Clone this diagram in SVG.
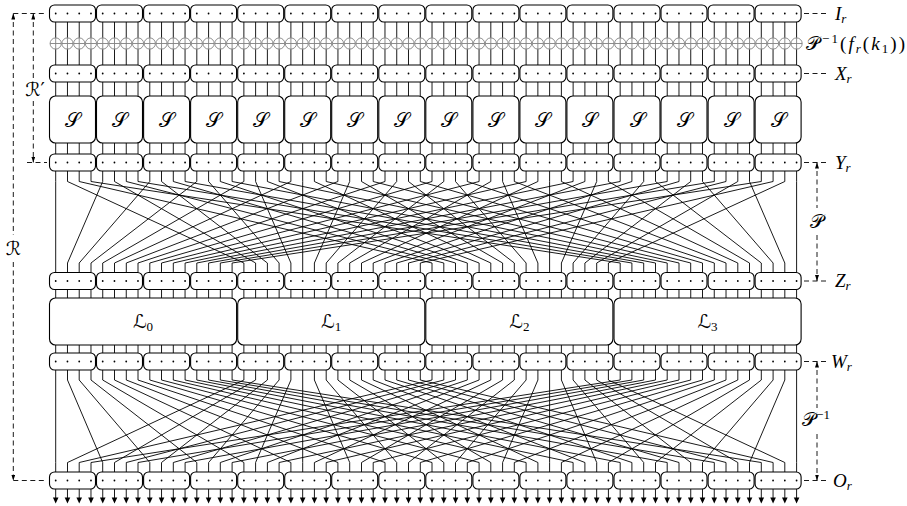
<svg xmlns="http://www.w3.org/2000/svg" xmlns:xlink="http://www.w3.org/1999/xlink" width="907" height="506" viewBox="0 0 907 506">
<style>
.bx{fill:#fff;stroke:#000;stroke-width:1.1}
.w{fill:none;stroke:#000;stroke-width:0.9}
.c path{fill:none;stroke:#000;stroke-width:0.9}
.dash{fill:none;stroke:#000;stroke-width:0.9;stroke-dasharray:5 3.5}
.xr{fill:#fff;stroke:#808080;stroke-width:0.9}
.lbl{font-family:"Liberation Serif",serif;font-style:italic;font-size:19px}
.sub{font-family:"Liberation Serif",serif;font-style:italic;font-size:13px}
.cal{font-family:"DejaVu Serif","DejaVu Sans",serif;font-style:normal}
.num{font-family:"Liberation Serif",serif;font-style:normal;font-size:13px}
</style>
<defs>
<marker id="ah" viewBox="0 0 6 4" refX="6" refY="2" markerWidth="6" markerHeight="4" markerUnits="userSpaceOnUse" orient="auto-start-reverse"><path d="M0 0L6 2L0 4z"/></marker>
<g id="sb"><rect class="bx" x="0" y="0" width="46" height="17" rx="5"/><circle cx="6.2" cy="8.5" r="0.9"/><circle cx="17.96" cy="8.5" r="0.9"/><circle cx="29.72" cy="8.5" r="0.9"/><circle cx="41.48" cy="8.5" r="0.9"/></g>
<g id="Sb"><rect class="bx" x="0" y="0" width="46" height="47" rx="6"/><text class="cal" x="23" y="30.5" font-size="20" text-anchor="middle">𝒮</text></g>
<g id="col"><path class="w" d="M0 22V37.9M0 49.1V65M0 82V96M0 143V154M0 289.5V298M0 345V353M0 489V498"/><circle class="xr" cx="0" cy="43.5" r="5.6"/><path class="xr" d="M0 37.9V49.1M-5.6 43.5H5.6"/><path d="M-2.8 497.5H2.8L0 503.5z"/></g>
<g id="c4"><use xlink:href="#col"/><use xlink:href="#col" x="11.76"/><use xlink:href="#col" x="23.52"/><use xlink:href="#col" x="35.28"/></g>
<g id="c16"><use xlink:href="#c4"/><use xlink:href="#c4" x="47.04"/><use xlink:href="#c4" x="94.08"/><use xlink:href="#c4" x="141.12"/></g>
</defs>
<rect width="907" height="506" fill="#fff"/>
<g id="wires">
<use xlink:href="#c16" x="55.7"/><use xlink:href="#c16" x="243.86"/><use xlink:href="#c16" x="432.02"/><use xlink:href="#c16" x="620.18"/>
</g>
<g id="I">
<g id="I0"><use xlink:href="#sb" x="49.5" y="5"/></g><g id="I1"><use xlink:href="#sb" x="96.5" y="5"/></g><g id="I2"><use xlink:href="#sb" x="143.6" y="5"/></g><g id="I3"><use xlink:href="#sb" x="190.6" y="5"/></g>
<g id="I4"><use xlink:href="#sb" x="237.7" y="5"/></g><g id="I5"><use xlink:href="#sb" x="284.7" y="5"/></g><g id="I6"><use xlink:href="#sb" x="331.7" y="5"/></g><g id="I7"><use xlink:href="#sb" x="378.8" y="5"/></g>
<g id="I8"><use xlink:href="#sb" x="425.8" y="5"/></g><g id="I9"><use xlink:href="#sb" x="472.9" y="5"/></g><g id="I10"><use xlink:href="#sb" x="519.9" y="5"/></g><g id="I11"><use xlink:href="#sb" x="566.9" y="5"/></g>
<g id="I12"><use xlink:href="#sb" x="614" y="5"/></g><g id="I13"><use xlink:href="#sb" x="661" y="5"/></g><g id="I14"><use xlink:href="#sb" x="708.1" y="5"/></g><g id="I15"><use xlink:href="#sb" x="755.1" y="5"/></g>
</g>
<g id="X">
<g id="X0"><use xlink:href="#sb" x="49.5" y="65"/></g><g id="X1"><use xlink:href="#sb" x="96.5" y="65"/></g><g id="X2"><use xlink:href="#sb" x="143.6" y="65"/></g><g id="X3"><use xlink:href="#sb" x="190.6" y="65"/></g>
<g id="X4"><use xlink:href="#sb" x="237.7" y="65"/></g><g id="X5"><use xlink:href="#sb" x="284.7" y="65"/></g><g id="X6"><use xlink:href="#sb" x="331.7" y="65"/></g><g id="X7"><use xlink:href="#sb" x="378.8" y="65"/></g>
<g id="X8"><use xlink:href="#sb" x="425.8" y="65"/></g><g id="X9"><use xlink:href="#sb" x="472.9" y="65"/></g><g id="X10"><use xlink:href="#sb" x="519.9" y="65"/></g><g id="X11"><use xlink:href="#sb" x="566.9" y="65"/></g>
<g id="X12"><use xlink:href="#sb" x="614" y="65"/></g><g id="X13"><use xlink:href="#sb" x="661" y="65"/></g><g id="X14"><use xlink:href="#sb" x="708.1" y="65"/></g><g id="X15"><use xlink:href="#sb" x="755.1" y="65"/></g>
</g>
<g id="S">
<g id="S0"><use xlink:href="#Sb" x="49.5" y="96"/></g><g id="S1"><use xlink:href="#Sb" x="96.5" y="96"/></g><g id="S2"><use xlink:href="#Sb" x="143.6" y="96"/></g><g id="S3"><use xlink:href="#Sb" x="190.6" y="96"/></g>
<g id="S4"><use xlink:href="#Sb" x="237.7" y="96"/></g><g id="S5"><use xlink:href="#Sb" x="284.7" y="96"/></g><g id="S6"><use xlink:href="#Sb" x="331.7" y="96"/></g><g id="S7"><use xlink:href="#Sb" x="378.8" y="96"/></g>
<g id="S8"><use xlink:href="#Sb" x="425.8" y="96"/></g><g id="S9"><use xlink:href="#Sb" x="472.9" y="96"/></g><g id="S10"><use xlink:href="#Sb" x="519.9" y="96"/></g><g id="S11"><use xlink:href="#Sb" x="566.9" y="96"/></g>
<g id="S12"><use xlink:href="#Sb" x="614" y="96"/></g><g id="S13"><use xlink:href="#Sb" x="661" y="96"/></g><g id="S14"><use xlink:href="#Sb" x="708.1" y="96"/></g><g id="S15"><use xlink:href="#Sb" x="755.1" y="96"/></g>
</g>
<g id="Y">
<g id="Y0"><use xlink:href="#sb" x="49.5" y="154"/></g><g id="Y1"><use xlink:href="#sb" x="96.5" y="154"/></g><g id="Y2"><use xlink:href="#sb" x="143.6" y="154"/></g><g id="Y3"><use xlink:href="#sb" x="190.6" y="154"/></g>
<g id="Y4"><use xlink:href="#sb" x="237.7" y="154"/></g><g id="Y5"><use xlink:href="#sb" x="284.7" y="154"/></g><g id="Y6"><use xlink:href="#sb" x="331.7" y="154"/></g><g id="Y7"><use xlink:href="#sb" x="378.8" y="154"/></g>
<g id="Y8"><use xlink:href="#sb" x="425.8" y="154"/></g><g id="Y9"><use xlink:href="#sb" x="472.9" y="154"/></g><g id="Y10"><use xlink:href="#sb" x="519.9" y="154"/></g><g id="Y11"><use xlink:href="#sb" x="566.9" y="154"/></g>
<g id="Y12"><use xlink:href="#sb" x="614" y="154"/></g><g id="Y13"><use xlink:href="#sb" x="661" y="154"/></g><g id="Y14"><use xlink:href="#sb" x="708.1" y="154"/></g><g id="Y15"><use xlink:href="#sb" x="755.1" y="154"/></g>
</g>
<g id="Z">
<g id="Z0"><use xlink:href="#sb" x="49.5" y="272.5"/></g><g id="Z1"><use xlink:href="#sb" x="96.5" y="272.5"/></g><g id="Z2"><use xlink:href="#sb" x="143.6" y="272.5"/></g><g id="Z3"><use xlink:href="#sb" x="190.6" y="272.5"/></g>
<g id="Z4"><use xlink:href="#sb" x="237.7" y="272.5"/></g><g id="Z5"><use xlink:href="#sb" x="284.7" y="272.5"/></g><g id="Z6"><use xlink:href="#sb" x="331.7" y="272.5"/></g><g id="Z7"><use xlink:href="#sb" x="378.8" y="272.5"/></g>
<g id="Z8"><use xlink:href="#sb" x="425.8" y="272.5"/></g><g id="Z9"><use xlink:href="#sb" x="472.9" y="272.5"/></g><g id="Z10"><use xlink:href="#sb" x="519.9" y="272.5"/></g><g id="Z11"><use xlink:href="#sb" x="566.9" y="272.5"/></g>
<g id="Z12"><use xlink:href="#sb" x="614" y="272.5"/></g><g id="Z13"><use xlink:href="#sb" x="661" y="272.5"/></g><g id="Z14"><use xlink:href="#sb" x="708.1" y="272.5"/></g><g id="Z15"><use xlink:href="#sb" x="755.1" y="272.5"/></g>
</g>
<g id="L">
<g id="L0"><rect class="bx" x="49.5" y="298" width="187.1" height="47" rx="6"/><text class="cal" x="143" y="328" font-size="19" text-anchor="middle">ℒ<tspan class="num" dy="3">0</tspan></text></g>
<g id="L1"><rect class="bx" x="237.7" y="298" width="187.1" height="47" rx="6"/><text class="cal" x="331.2" y="328" font-size="19" text-anchor="middle">ℒ<tspan class="num" dy="3">1</tspan></text></g>
<g id="L2"><rect class="bx" x="425.8" y="298" width="187.1" height="47" rx="6"/><text class="cal" x="519.4" y="328" font-size="19" text-anchor="middle">ℒ<tspan class="num" dy="3">2</tspan></text></g>
<g id="L3"><rect class="bx" x="614" y="298" width="187.1" height="47" rx="6"/><text class="cal" x="707.5" y="328" font-size="19" text-anchor="middle">ℒ<tspan class="num" dy="3">3</tspan></text></g>
</g>
<g id="W">
<g id="W0"><use xlink:href="#sb" x="49.5" y="353"/></g><g id="W1"><use xlink:href="#sb" x="96.5" y="353"/></g><g id="W2"><use xlink:href="#sb" x="143.6" y="353"/></g><g id="W3"><use xlink:href="#sb" x="190.6" y="353"/></g>
<g id="W4"><use xlink:href="#sb" x="237.7" y="353"/></g><g id="W5"><use xlink:href="#sb" x="284.7" y="353"/></g><g id="W6"><use xlink:href="#sb" x="331.7" y="353"/></g><g id="W7"><use xlink:href="#sb" x="378.8" y="353"/></g>
<g id="W8"><use xlink:href="#sb" x="425.8" y="353"/></g><g id="W9"><use xlink:href="#sb" x="472.9" y="353"/></g><g id="W10"><use xlink:href="#sb" x="519.9" y="353"/></g><g id="W11"><use xlink:href="#sb" x="566.9" y="353"/></g>
<g id="W12"><use xlink:href="#sb" x="614" y="353"/></g><g id="W13"><use xlink:href="#sb" x="661" y="353"/></g><g id="W14"><use xlink:href="#sb" x="708.1" y="353"/></g><g id="W15"><use xlink:href="#sb" x="755.1" y="353"/></g>
</g>
<g id="O">
<g id="O0"><use xlink:href="#sb" x="49.5" y="472"/></g><g id="O1"><use xlink:href="#sb" x="96.5" y="472"/></g><g id="O2"><use xlink:href="#sb" x="143.6" y="472"/></g><g id="O3"><use xlink:href="#sb" x="190.6" y="472"/></g>
<g id="O4"><use xlink:href="#sb" x="237.7" y="472"/></g><g id="O5"><use xlink:href="#sb" x="284.7" y="472"/></g><g id="O6"><use xlink:href="#sb" x="331.7" y="472"/></g><g id="O7"><use xlink:href="#sb" x="378.8" y="472"/></g>
<g id="O8"><use xlink:href="#sb" x="425.8" y="472"/></g><g id="O9"><use xlink:href="#sb" x="472.9" y="472"/></g><g id="O10"><use xlink:href="#sb" x="519.9" y="472"/></g><g id="O11"><use xlink:href="#sb" x="566.9" y="472"/></g>
<g id="O12"><use xlink:href="#sb" x="614" y="472"/></g><g id="O13"><use xlink:href="#sb" x="661" y="472"/></g><g id="O14"><use xlink:href="#sb" x="708.1" y="472"/></g><g id="O15"><use xlink:href="#sb" x="755.1" y="472"/></g>
</g>
<g id="connectors" class="c">
<g id="P">
<path d="M55.7 171V181.5L55.7 263V272.5"/><path d="M67.5 171V181.5L243.9 263V272.5"/><path d="M79.2 171V181.5L432 263V272.5"/><path d="M91 171V181.5L620.2 263V272.5"/>
<path d="M102.7 171V181.5L67.5 263V272.5"/><path d="M114.5 171V181.5L255.6 263V272.5"/><path d="M126.3 171V181.5L443.8 263V272.5"/><path d="M138 171V181.5L631.9 263V272.5"/>
<path d="M149.8 171V181.5L79.2 263V272.5"/><path d="M161.5 171V181.5L267.4 263V272.5"/><path d="M173.3 171V181.5L455.5 263V272.5"/><path d="M185.1 171V181.5L643.7 263V272.5"/>
<path d="M196.8 171V181.5L91 263V272.5"/><path d="M208.6 171V181.5L279.1 263V272.5"/><path d="M220.3 171V181.5L467.3 263V272.5"/><path d="M232.1 171V181.5L655.5 263V272.5"/>
<path d="M243.9 171V181.5L102.7 263V272.5"/><path d="M255.6 171V181.5L290.9 263V272.5"/><path d="M267.4 171V181.5L479.1 263V272.5"/><path d="M279.1 171V181.5L667.2 263V272.5"/>
<path d="M290.9 171V181.5L114.5 263V272.5"/><path d="M302.7 171V181.5L302.7 263V272.5"/><path d="M314.4 171V181.5L490.8 263V272.5"/><path d="M326.2 171V181.5L679 263V272.5"/>
<path d="M337.9 171V181.5L126.3 263V272.5"/><path d="M349.7 171V181.5L314.4 263V272.5"/><path d="M361.5 171V181.5L502.6 263V272.5"/><path d="M373.2 171V181.5L690.7 263V272.5"/>
<path d="M385 171V181.5L138 263V272.5"/><path d="M396.7 171V181.5L326.2 263V272.5"/><path d="M408.5 171V181.5L514.3 263V272.5"/><path d="M420.3 171V181.5L702.5 263V272.5"/>
<path d="M432 171V181.5L149.8 263V272.5"/><path d="M443.8 171V181.5L337.9 263V272.5"/><path d="M455.5 171V181.5L526.1 263V272.5"/><path d="M467.3 171V181.5L714.3 263V272.5"/>
<path d="M479.1 171V181.5L161.5 263V272.5"/><path d="M490.8 171V181.5L349.7 263V272.5"/><path d="M502.6 171V181.5L537.9 263V272.5"/><path d="M514.3 171V181.5L726 263V272.5"/>
<path d="M526.1 171V181.5L173.3 263V272.5"/><path d="M537.9 171V181.5L361.5 263V272.5"/><path d="M549.6 171V181.5L549.6 263V272.5"/><path d="M561.4 171V181.5L737.8 263V272.5"/>
<path d="M573.1 171V181.5L185.1 263V272.5"/><path d="M584.9 171V181.5L373.2 263V272.5"/><path d="M596.7 171V181.5L561.4 263V272.5"/><path d="M608.4 171V181.5L749.5 263V272.5"/>
<path d="M620.2 171V181.5L196.8 263V272.5"/><path d="M631.9 171V181.5L385 263V272.5"/><path d="M643.7 171V181.5L573.1 263V272.5"/><path d="M655.5 171V181.5L761.3 263V272.5"/>
<path d="M667.2 171V181.5L208.6 263V272.5"/><path d="M679 171V181.5L396.7 263V272.5"/><path d="M690.7 171V181.5L584.9 263V272.5"/><path d="M702.5 171V181.5L773.1 263V272.5"/>
<path d="M714.3 171V181.5L220.3 263V272.5"/><path d="M726 171V181.5L408.5 263V272.5"/><path d="M737.8 171V181.5L596.7 263V272.5"/><path d="M749.5 171V181.5L784.8 263V272.5"/>
<path d="M761.3 171V181.5L232.1 263V272.5"/><path d="M773.1 171V181.5L420.3 263V272.5"/><path d="M784.8 171V181.5L608.4 263V272.5"/><path d="M796.6 171V181.5L796.6 263V272.5"/>
</g>
<g id="Pinv">
<path d="M55.7 370V380L55.7 462.5V472"/><path d="M243.9 370V380L67.5 462.5V472"/><path d="M432 370V380L79.2 462.5V472"/><path d="M620.2 370V380L91 462.5V472"/>
<path d="M67.5 370V380L102.7 462.5V472"/><path d="M255.6 370V380L114.5 462.5V472"/><path d="M443.8 370V380L126.3 462.5V472"/><path d="M631.9 370V380L138 462.5V472"/>
<path d="M79.2 370V380L149.8 462.5V472"/><path d="M267.4 370V380L161.5 462.5V472"/><path d="M455.5 370V380L173.3 462.5V472"/><path d="M643.7 370V380L185.1 462.5V472"/>
<path d="M91 370V380L196.8 462.5V472"/><path d="M279.1 370V380L208.6 462.5V472"/><path d="M467.3 370V380L220.3 462.5V472"/><path d="M655.5 370V380L232.1 462.5V472"/>
<path d="M102.7 370V380L243.9 462.5V472"/><path d="M290.9 370V380L255.6 462.5V472"/><path d="M479.1 370V380L267.4 462.5V472"/><path d="M667.2 370V380L279.1 462.5V472"/>
<path d="M114.5 370V380L290.9 462.5V472"/><path d="M302.7 370V380L302.7 462.5V472"/><path d="M490.8 370V380L314.4 462.5V472"/><path d="M679 370V380L326.2 462.5V472"/>
<path d="M126.3 370V380L337.9 462.5V472"/><path d="M314.4 370V380L349.7 462.5V472"/><path d="M502.6 370V380L361.5 462.5V472"/><path d="M690.7 370V380L373.2 462.5V472"/>
<path d="M138 370V380L385 462.5V472"/><path d="M326.2 370V380L396.7 462.5V472"/><path d="M514.3 370V380L408.5 462.5V472"/><path d="M702.5 370V380L420.3 462.5V472"/>
<path d="M149.8 370V380L432 462.5V472"/><path d="M337.9 370V380L443.8 462.5V472"/><path d="M526.1 370V380L455.5 462.5V472"/><path d="M714.3 370V380L467.3 462.5V472"/>
<path d="M161.5 370V380L479.1 462.5V472"/><path d="M349.7 370V380L490.8 462.5V472"/><path d="M537.9 370V380L502.6 462.5V472"/><path d="M726 370V380L514.3 462.5V472"/>
<path d="M173.3 370V380L526.1 462.5V472"/><path d="M361.5 370V380L537.9 462.5V472"/><path d="M549.6 370V380L549.6 462.5V472"/><path d="M737.8 370V380L561.4 462.5V472"/>
<path d="M185.1 370V380L573.1 462.5V472"/><path d="M373.2 370V380L584.9 462.5V472"/><path d="M561.4 370V380L596.7 462.5V472"/><path d="M749.5 370V380L608.4 462.5V472"/>
<path d="M196.8 370V380L620.2 462.5V472"/><path d="M385 370V380L631.9 462.5V472"/><path d="M573.1 370V380L643.7 462.5V472"/><path d="M761.3 370V380L655.5 462.5V472"/>
<path d="M208.6 370V380L667.2 462.5V472"/><path d="M396.7 370V380L679 462.5V472"/><path d="M584.9 370V380L690.7 462.5V472"/><path d="M773.1 370V380L702.5 462.5V472"/>
<path d="M220.3 370V380L714.3 462.5V472"/><path d="M408.5 370V380L726 462.5V472"/><path d="M596.7 370V380L737.8 462.5V472"/><path d="M784.8 370V380L749.5 462.5V472"/>
<path d="M232.1 370V380L761.3 462.5V472"/><path d="M420.3 370V380L773.1 462.5V472"/><path d="M608.4 370V380L784.8 462.5V472"/><path d="M796.6 370V380L796.6 462.5V472"/>
</g>
</g>
<g id="annotations">
<path class="dash" d="M804 13.5H828M804 73.5H828M804 162.5H828M804 281H828M804 361.5H828M804 480.5H828"/>
<path class="dash" d="M13.3 13.5H47M27 162.5H47M13.3 480.5H47"/>
<line class="dash" x1="13.3" y1="13.5" x2="13.3" y2="235" marker-start="url(#ah)"/>
<line class="dash" x1="13.3" y1="262" x2="13.3" y2="480.5" marker-end="url(#ah)"/>
<line class="dash" x1="33.3" y1="13.5" x2="33.3" y2="78" marker-start="url(#ah)"/>
<line class="dash" x1="33.3" y1="101" x2="33.3" y2="162.5" marker-end="url(#ah)"/>
<line class="dash" x1="817" y1="162.5" x2="817" y2="208" marker-start="url(#ah)"/>
<line class="dash" x1="817" y1="235" x2="817" y2="281" marker-end="url(#ah)"/>
<line class="dash" x1="817" y1="361.5" x2="817" y2="408" marker-start="url(#ah)"/>
<line class="dash" x1="817" y1="434" x2="817" y2="480.5" marker-end="url(#ah)"/>
<text class="cal" x="13.3" y="255" font-size="19" text-anchor="middle">ℛ</text>
<text class="cal" x="35" y="96" font-size="19" text-anchor="middle">ℛ′</text>
<text class="cal" x="817" y="228" font-size="19" text-anchor="middle">𝒫</text>
<text class="cal" x="816" y="426" font-size="19" text-anchor="middle">𝒫<tspan class="num" dy="-7">−1</tspan></text>
<text class="lbl" x="835" y="19.5">I<tspan class="sub" dy="3">r</tspan></text>
<text class="cal" x="806" y="49.5" font-size="19" textLength="99" lengthAdjust="spacing">𝒫<tspan class="num" dy="-7">−1</tspan><tspan font-family="Liberation Serif" dy="7">(</tspan><tspan class="lbl">f</tspan><tspan class="sub" dy="3">r</tspan><tspan font-family="Liberation Serif" dy="-3">(</tspan><tspan class="lbl">k</tspan><tspan class="num" dy="3">1</tspan><tspan font-family="Liberation Serif" dy="-3">))</tspan></text>
<text class="lbl" x="835" y="79.5">X<tspan class="sub" dy="3">r</tspan></text>
<text class="lbl" x="835" y="168.5">Y<tspan class="sub" dy="3">r</tspan></text>
<text class="lbl" x="835" y="287">Z<tspan class="sub" dy="3">r</tspan></text>
<text class="lbl" x="831" y="367.5">W<tspan class="sub" dy="3">r</tspan></text>
<text class="lbl" x="833" y="486.5">O<tspan class="sub" dy="3">r</tspan></text>
</g>
</svg>
